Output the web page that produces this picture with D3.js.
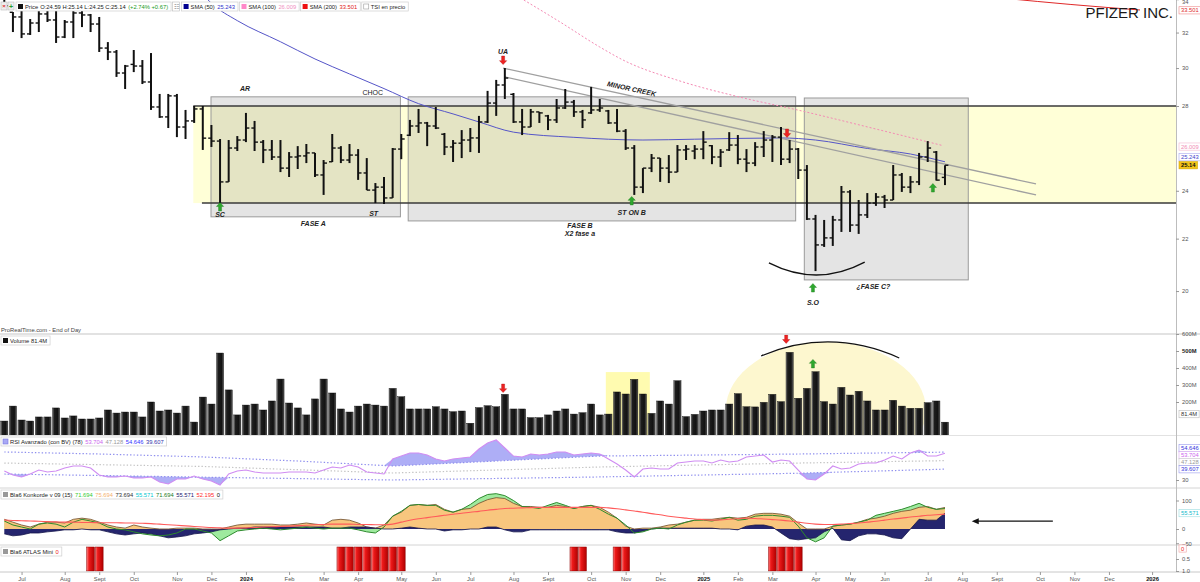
<!DOCTYPE html>
<html><head><meta charset="utf-8">
<script src="https://cdn.jsdelivr.net/npm/d3@7/dist/d3.min.js"></script>
<style>
html,body{margin:0;padding:0;background:#fff;}
svg{display:block;font-family:"Liberation Sans",Arial,sans-serif;}
</style></head><body>
<svg id="chart" width="1200" height="582"></svg>
<script>
// ---------------- DATA (weekly bars, bar 0 = week of 2023-06-19) ----------------
const openP = [34.00,33.20,32.92,31.92,32.56,33.10,32.74,31.74,32.62,33.16,
 33.04,32.50,31.11,30.89,29.73,30.20,30.11,29.25,27.95,27.45,
 28.52,26.95,27.25,27.85,26.41,26.27,24.39,25.94,26.32,26.90,
 26.22,25.85,25.52,25.01,25.52,25.57,25.71,24.70,25.30,25.94,
 25.38,25.61,24.79,24.03,24.16,23.69,25.89,26.55,27.00,27.15,
 27.00,26.60,25.99,26.17,26.32,26.42,27.20,28.15,29.09,28.60,
 27.20,26.95,27.70,27.50,27.30,27.90,28.20,27.70,27.65,27.80,
 27.75,27.15,26.75,25.94,24.16,25.01,25.47,25.01,24.83,25.85,
 25.80,25.89,26.05,25.52,25.85,26.08,25.42,25.24,25.99,26.32,
 26.46,25.42,25.89,24.92,22.80,21.75,22.03,22.76,23.95,22.55,
 22.97,23.47,23.73,23.60,24.70,24.16,24.39,25.52,25.75,24.59];
const highP = [34.50,33.22,33.34,32.80,33.40,33.40,33.40,32.74,33.40,33.40,
 33.10,32.92,31.45,31.00,30.17,31.00,30.44,30.83,28.62,28.62,
 28.62,27.80,28.00,28.00,27.05,26.37,26.32,26.51,27.65,27.25,
 26.32,26.32,26.32,25.75,26.03,26.13,25.71,25.38,26.61,26.03,
 26.13,25.89,25.47,24.34,24.61,25.94,26.61,27.30,27.85,27.20,
 27.95,26.66,26.32,26.80,26.90,27.50,28.78,29.36,30.00,28.67,
 27.85,27.85,27.70,27.55,28.36,28.88,28.31,27.80,28.99,28.36,
 27.80,27.85,26.85,26.08,25.01,25.66,25.47,25.61,26.08,26.08,
 26.08,26.75,26.08,25.89,26.70,26.56,25.89,26.22,26.75,26.56,
 26.95,26.32,25.94,25.15,22.97,22.76,22.93,24.21,24.03,23.60,
 23.90,23.90,23.82,25.15,24.79,24.65,25.71,26.27,25.80,25.14];
const lowP = [33.40,32.03,31.68,31.86,32.03,32.62,31.40,31.68,31.68,32.32,
 32.03,30.89,30.44,29.52,28.88,29.78,29.14,27.80,27.40,26.90,
 26.46,26.37,27.15,25.85,25.99,23.47,24.39,25.80,26.22,25.80,
 25.24,25.38,24.83,24.61,24.97,25.24,24.61,23.82,25.29,25.24,
 25.24,24.48,24.03,23.47,23.43,23.69,25.42,26.51,26.66,26.03,
 26.85,25.61,25.29,25.47,25.75,25.71,27.15,27.50,28.36,27.15,
 26.56,26.95,27.15,26.80,27.15,27.85,27.45,26.90,27.60,27.70,
 27.10,26.70,25.85,23.82,23.90,24.83,24.39,24.34,24.83,25.38,
 25.42,25.42,25.19,25.06,25.80,25.19,24.83,25.10,25.52,25.29,
 25.15,25.24,24.52,22.76,20.74,21.67,21.71,22.27,22.27,22.19,
 22.84,23.35,23.26,23.60,23.95,23.90,24.25,25.29,24.45,24.25];
const closeP = [33.60,32.92,31.92,32.56,33.10,32.74,31.74,32.62,33.16,33.04,
 32.50,31.11,30.89,29.73,30.11,30.11,29.25,27.95,27.45,28.52,
 26.95,27.25,27.85,26.41,26.27,24.39,25.94,26.32,26.90,26.22,
 25.85,25.52,25.01,25.52,25.57,25.71,24.70,25.24,25.94,25.38,
 25.61,24.79,24.03,24.16,23.69,25.89,26.37,27.00,27.15,27.00,
 26.90,25.99,26.17,26.32,26.42,27.20,28.15,29.09,29.46,27.20,
 26.95,27.70,27.65,27.30,27.90,28.20,27.70,27.30,27.80,27.90,
 27.15,26.75,25.94,24.16,25.01,25.47,25.01,24.83,25.85,25.89,
 25.89,26.22,25.52,25.75,26.08,25.42,25.24,25.99,26.32,26.46,
 25.42,25.89,24.92,22.80,21.75,22.03,22.76,23.95,22.55,22.97,
 23.47,23.73,23.60,24.70,24.16,24.39,25.52,25.94,24.47,25.14];
// volume in millions
const volumeM = [88,176,94,88,112,112,165,106,118,100,
 100,106,153,135,141,141,112,200,147,153,
 135,176,82,229,188,488,271,124,182,188,
 153,206,335,194,165,124,218,335,253,159,
 141,176,188,182,176,280,231,159,159,159,
 172,159,143,147,75,167,178,172,245,159,
 159,108,108,124,147,159,129,137,188,124,
 129,259,247,333,247,133,206,188,325,114,
 127,147,153,153,188,249,172,171,198,245,
 202,492,222,280,378,202,188,286,241,263,
 206,153,153,210,176,163,163,196,206,81.4];
// moving averages: [bar index, value]
const sma50 = [[23,34.30],[24,33.75],[27,32.70],[32,31.47],[36,30.50],[40,29.68],[44,28.90],[48,28.12],[52,27.60],[55,27.20],[59,26.70],[66,26.45],[74,26.32],[80,26.36],[90,26.42],[94,26.32],[100,25.92],[105,25.66],[109,25.30]];
const sma100 = [[59.8,34.08],[64.4,32.62],[69,31.17],[71.7,30.44],[78.3,29.30],[85.2,28.46],[91.9,27.80],[101.5,26.80],[108.8,26.05]];
const sma200 = [[116,34.05],[123.5,33.68],[131.6,33.34]];
// RSI Avanzado
const rsi = [38.0,34.4,32.7,35.3,38.8,37.1,38.0,40.6,42.4,42.4,
 40.6,34.4,32.7,32.7,33.5,31.8,31.8,32.7,28.2,26.5,
 30.9,30.9,33.5,30.9,29.1,25.6,35.3,38.0,38.8,37.1,
 36.2,36.2,36.2,37.1,37.1,37.1,36.2,38.8,41.5,40.6,
 43.3,41.5,37.1,36.2,35.3,48.6,51.2,53.9,53.9,52.1,
 48.6,46.8,48.6,49.5,50.4,57.4,62.7,65.4,58.3,51.2,
 50.4,53.0,52.1,53.0,54.8,54.8,52.1,53.0,53.9,53.0,
 48.6,44.2,38.8,32.7,39.7,40.6,39.7,39.7,45.0,45.9,
 46.8,46.8,45.0,47.7,45.9,46.8,50.4,51.2,52.1,45.9,
 47.7,46.8,38.8,30.9,30.0,35.3,42.4,39.7,40.6,44.2,
 45.0,45.0,47.7,51.2,48.6,53.9,56.5,51.2,51.2,53.704];
const rsiUpper = [[0,54.8],[11,53.0],[23,50.4],[34,46.8],[45,42.4],[57,46.8],[69,51.2],[81,52.1],[92,53.0],[109,54.646]];
const rsiMid = [[0,45.0],[23,42.0],[45,36.2],[69,41.5],[92,45.0],[109,47.128]];
const rsiLower = [[0,35.3],[23,32.5],[45,30.0],[69,32.7],[92,36.0],[109,39.607]];
// Konkorde
const marron = [34,24,14,7,17,24,24,21,34,38,
 34,24,14,7,3,14,7,3,0,0,
 3,3,3,0,0,0,7,14,17,17,
 17,17,14,14,17,21,17,14,31,34,
 31,21,7,3,14,45,59,83,86,83,
 86,69,59,69,72,90,103,110,107,90,
 79,79,76,76,83,79,72,79,83,76,
 59,38,10,0,3,3,7,14,17,24,
 31,34,34,38,41,38,41,52,55,55,
 52,45,21,0,0,0,10,14,17,24,
 34,38,45,55,62,66,76,79,69,75.694];
const verde = [28,14,7,0,17,21,17,7,24,34,
 28,21,7,0,-3,-10,-17,-21,-24,-21,
 -14,0,0,-7,-14,-41,-24,-7,-3,0,
 3,0,-3,0,3,7,3,0,3,3,
 3,-3,-10,-14,7,45,62,83,86,83,
 83,66,59,69,86,107,121,124,117,100,
 79,76,72,83,93,83,72,79,83,69,
 52,38,14,-14,-10,0,3,0,14,24,
 31,31,28,34,41,31,34,45,48,48,
 45,41,10,-31,-45,-31,10,14,17,24,
 31,48,55,62,69,79,90,76,69,71.694];
const azul = [-17,-24,-21,-14,-14,-10,-7,-3,-3,0,
 -3,-3,-10,-17,-21,-17,-14,-17,-24,-31,
 -28,-24,-17,-14,-10,-3,0,3,3,7,
 7,7,7,7,7,7,7,7,3,3,
 7,7,7,3,0,0,3,7,3,0,
 0,-7,-3,-3,0,0,7,7,-3,-10,
 -10,-3,-3,-3,-3,-3,-3,-3,-3,-3,
 -3,-10,-14,-14,-7,0,3,3,3,3,
 3,3,3,0,0,-3,10,14,14,7,
 -14,-34,-38,-34,-31,-10,3,-38,-41,-24,
 -17,-17,-21,-31,-34,0,34,31,31,55.571];
const media = [31,30,29,28,27,26,25,24,24,23,
 23,22,22,22,21,21,20,19,17,15,
 13,11,9,7,5,4,3,3,4,5,
 7,8,9,10,12,13,15,16,17,17,
 17,16,16,15,15,17,24,31,36,40,
 44,48,52,55,59,62,66,69,72,73,
 74,75,76,76,76,76,76,76,76,76,
 74,71,67,63,59,54,50,45,41,38,
 35,33,31,32,34,36,38,37,35,33,
 31,28,24,20,17,16,16,17,19,21,
 24,27,31,35,38,42,45,48,50,52.195];
// ATLAS Mini signal weeks
const atlasOn = [10,11,39,40,41,42,43,44,45,46,66,67,71,72,89,90,91,92];
// axis labels
const priceTicks = [20,22,24,28,30,32,34];
const volTicks = [200,300,400,500,600];
const tickLabels = ["Jul","Aug","Sept","Oct","Nov","Dec","2024","Feb","Mar","Apr","May","Jun","Jul","Aug","Sept","Oct","Nov","Dec","2025","Feb","Mar","Apr","May","Jun","Jul","Aug","Sept","Oct","Nov","Dec","2026"];
// annotations (bar index, price)
const zone = {i0:21.9, top:28.0, bottom:23.47};
const boxes = [{i0:23.95,i1:45.9,top:28.47,bot:22.89},{i0:46.8,i1:91.7,top:28.47,bot:22.72},{i0:92.7,i1:111.7,top:28.41,bot:20.41}];
const trend = [[[57.8,30.0],[119.55,24.30]],[[58.0,29.52],[119.55,23.82]]];
const notes = [
 {t:"AR",i:27.9,p:28.88,b:1},{t:"CHOC",i:42.7,p:28.67,b:0},{t:"SC",i:25,p:22.97,b:1},{t:"ST",i:42.8,p:23.01,b:1},
 {t:"FASE A",i:35.8,p:22.63,b:1},{t:"FASE B",i:66.7,p:22.55,b:1},{t:"X2 fase a",i:66.7,p:22.19,b:1},{t:"ST ON B",i:72.7,p:23.05,b:1},
 {t:"UA",i:57.8,p:30.94,b:1},{t:"S.O",i:93.7,p:19.57,b:1},{t:"¿FASE C?",i:100.7,p:20.15,b:1}];
const upArrows = [[25,23.30],[72.7,23.56],[93.7,20.11],[107.6,24.12]];
const downArrows = [[57.8,30.44],[90.7,26.66]];

// ---------------- SCALES ----------------
const svg = d3.select("#chart");
const PR = 1176;
const t0 = Date.UTC(2023,5,19), WEEK = 7*864e5;
const bd = i => new Date(t0 + i*WEEK);
const x = d3.scaleUtc().domain([bd(0), bd(109)]).range([4.3, 944.97]);
const xi = i => x(bd(i));
const yP = d3.scaleLog().domain([18.498, 33.951]).range([334, 0]);
const yV = d3.scaleLinear().domain([0, 600]).range([436, 334]);
const yR = d3.scaleLinear().domain([30, 70]).range([480, 434.8]);
const yK = d3.scaleLinear().domain([-50, 100]).range([543.25, 500.5]);
const yA = d3.scaleLinear().domain([0, 1]).range([547, 571]);
const idx = d3.range(110);

const defs = svg.append("defs");
function grad(id, stops){const g=defs.append("linearGradient").attr("id",id).attr("x1",0).attr("x2",1).attr("y1",0).attr("y2",0);stops.forEach(s=>g.append("stop").attr("offset",s[0]).attr("stop-color",s[1]));}
grad("gVol",[[0,"#8a8a8a"],[0.22,"#1e1e1e"],[0.7,"#121212"],[1,"#5a5a5a"]]);
grad("gAtl",[[0,"#ff8080"],[0.3,"#ee1a1a"],[1,"#b00000"]]);
function clip(id,x0,y0,w,h){defs.append("clipPath").attr("id",id).append("rect").attr("x",x0).attr("y",y0).attr("width",w).attr("height",h);}
clip("cP",0,0,PR,334); clip("cV",0,334,PR,101); clip("cR",0,435,PR,53); clip("cK",0,488,PR,57); clip("cA",0,545,PR,27);

// ---------------- PRICE PANEL ----------------
const gP = svg.append("g").attr("clip-path","url(#cP)");
gP.append("rect").attr("x",xi(zone.i0)).attr("y",yP(zone.top)).attr("width",PR-xi(zone.i0)).attr("height",yP(zone.bottom)-yP(zone.top)).attr("fill","#ffffd7");
boxes.forEach(b=>gP.append("rect").attr("x",xi(b.i0)).attr("y",yP(b.top)).attr("width",xi(b.i1)-xi(b.i0)).attr("height",yP(b.bot)-yP(b.top))
  .attr("fill","rgba(120,120,120,0.2)").attr("stroke","#9a9a9a").attr("stroke-width",1));
gP.append("line").attr("x1",xi(zone.i0)).attr("x2",PR).attr("y1",yP(zone.top)).attr("y2",yP(zone.top)).attr("stroke","#3a3a3a").attr("stroke-width",1.6);
gP.append("line").attr("x1",xi(zone.i0+1)).attr("x2",PR).attr("y1",yP(zone.bottom)).attr("y2",yP(zone.bottom)).attr("stroke","#3a3a3a").attr("stroke-width",1.6);

const lineP = d3.line().x(d=>xi(d[0])).y(d=>yP(d[1])).curve(d3.curveMonotoneX);
gP.append("path").attr("d",lineP(sma50)).attr("fill","none").attr("stroke","#5555c8").attr("stroke-width",1);
gP.append("path").attr("d",lineP(sma100)).attr("fill","none").attr("stroke","#f48ab4").attr("stroke-width",1).attr("stroke-dasharray","2,2");
gP.append("path").attr("d",lineP(sma200)).attr("fill","none").attr("stroke","#e02828").attr("stroke-width",1);

trend.forEach(t=>gP.append("line").attr("x1",xi(t[0][0])).attr("y1",yP(t[0][1])).attr("x2",xi(t[1][0])).attr("y2",yP(t[1][1])).attr("stroke","#a0a0a0").attr("stroke-width",1.3));

idx.forEach(i=>{
  const cx = xi(i);
  gP.append("line").attr("x1",cx).attr("x2",cx).attr("y1",yP(highP[i])).attr("y2",yP(lowP[i])).attr("stroke","#111").attr("stroke-width",2);
  gP.append("line").attr("x1",cx-3.2).attr("x2",cx).attr("y1",yP(openP[i])).attr("y2",yP(openP[i])).attr("stroke","#111").attr("stroke-width",1.4);
  gP.append("line").attr("x1",cx).attr("x2",cx+3.4).attr("y1",yP(closeP[i])).attr("y2",yP(closeP[i])).attr("stroke","#111").attr("stroke-width",1.4);
});

const arrowD = "M0,-4.5 L3.6,-0.6 L1.5,-0.6 L1.5,4 L-1.5,4 L-1.5,-0.6 L-3.6,-0.6 Z";
function arrow(g,cx,cy,up,col){g.append("path").attr("d",arrowD).attr("transform",`translate(${cx},${cy}) rotate(${up?0:180})`).attr("fill",col).attr("stroke",up?"#1d7a1d":"#b01010").attr("stroke-width",0.4);}
upArrows.forEach(a=>arrow(gP,xi(a[0]),yP(a[1]),true,"#2ea82e"));
downArrows.forEach(a=>arrow(gP,xi(a[0]),yP(a[1]),false,"#ee2222"));

notes.forEach(n=>gP.append("text").attr("x",xi(n.i)).attr("y",yP(n.p)).attr("dy","0.35em").attr("text-anchor","middle")
  .attr("font-size",7).attr("font-weight",n.b?"bold":"normal").attr("font-style",n.b?"italic":"normal").attr("fill","#222").text(n.t));
{
  const a = trend[0]; const ang = Math.atan2(yP(a[1][1])-yP(a[0][1]), xi(a[1][0])-xi(a[0][0]))*180/Math.PI;
  gP.append("text").attr("transform",`translate(${xi(72.7)},${yP(28.88)}) rotate(${ang})`).attr("dy","0.35em").attr("text-anchor","middle")
    .attr("font-size",7).attr("font-weight","bold").attr("font-style","italic").attr("fill","#222").text("MINOR CREEK");
}
gP.append("path").attr("d",`M${xi(88.6)},${yP(21.05)} Q${xi(94.2)},${yP(20.13)} ${xi(99.7)},${yP(21.08)}`).attr("fill","none").attr("stroke","#111").attr("stroke-width",1.3);

// ---------------- VOLUME PANEL ----------------
const gV = svg.append("g").attr("clip-path","url(#cV)");
gV.append("ellipse").attr("cx",xi(95.2)).attr("cy",yV(153)).attr("rx",xi(95.2+11.6)-xi(95.2)).attr("ry",yV(0)-yV(400)).attr("fill","#fdf7cf");
gV.append("rect").attr("x",xi(69.7)).attr("y",yV(376)).attr("width",xi(74.8)-xi(69.7)).attr("height",yV(0)-yV(376)).attr("fill","#fffbb0");
idx.forEach(i=>gV.append("rect").attr("x",xi(i)-3.6).attr("width",7.2).attr("y",yV(volumeM[i])).attr("height",yV(0)-yV(volumeM[i]))
  .attr("fill","url(#gVol)").attr("stroke","#000").attr("stroke-width",0.4));
gV.append("path").attr("d",`M${xi(87.7)},${yV(471)} Q${xi(95.7)},${yV(641)} ${xi(103.7)},${yV(459)}`).attr("fill","none").attr("stroke","#111").attr("stroke-width",1.2);
arrow(gV,xi(57.8),yV(282),false,"#ee2222");
arrow(gV,xi(90.6),yV(571),false,"#ee2222");
arrow(gV,xi(93.7),yV(424),true,"#2ea82e");

// ---------------- RSI PANEL ----------------
const gR = svg.append("g").attr("clip-path","url(#cR)");
const sc = arr => d3.scaleLinear().domain(arr.map(d=>d[0])).range(arr.map(d=>d[1]));
const upAt = sc(rsiUpper), midAt = sc(rsiMid), loAt = sc(rsiLower);
gR.append("path").attr("d",d3.area().x(i=>xi(i)).y0(i=>yR(upAt(i))).y1(i=>yR(Math.max(rsi[i],upAt(i))))(idx)).attr("fill","#aeaef6");
gR.append("path").attr("d",d3.area().x(i=>xi(i)).y0(i=>yR(loAt(i))).y1(i=>yR(Math.min(rsi[i],loAt(i))))(idx)).attr("fill","#aeaef6");
[[upAt,"#8f8fee"],[midAt,"#c4c4c4"],[loAt,"#8f8fee"]].forEach(b=>gR.append("path").attr("d",d3.line().x(i=>xi(i)).y(i=>yR(b[0](i)))(idx))
  .attr("fill","none").attr("stroke",b[1]).attr("stroke-width",1.2).attr("stroke-dasharray","1.4,2"));
gR.append("path").attr("d",d3.line().x(i=>xi(i)).y(i=>yR(rsi[i]))(idx)).attr("fill","none").attr("stroke","#d08cf2").attr("stroke-width",1.1);

// ---------------- KONKORDE PANEL ----------------
const gK = svg.append("g").attr("clip-path","url(#cK)");
const kx = i=>xi(i);
gK.append("path").attr("d",d3.area().x(kx).y0(yK(0)).y1(i=>yK(verde[i]))(idx)).attr("fill","#9eea9e");
gK.append("path").attr("d",d3.area().x(kx).y0(yK(0)).y1(i=>yK(marron[i]))(idx)).attr("fill","#f8c67e");
gK.append("path").attr("d",d3.area().x(kx).y0(yK(0)).y1(i=>yK(azul[i]))(idx)).attr("fill","#25256e");
gK.append("path").attr("d",d3.line().x(kx).y(i=>yK(marron[i]))(idx)).attr("fill","none").attr("stroke","#7a5a38").attr("stroke-width",0.9);
gK.append("path").attr("d",d3.line().x(kx).y(i=>yK(azul[i]))(idx)).attr("fill","none").attr("stroke","#14144a").attr("stroke-width",0.8);
gK.append("path").attr("d",d3.line().x(kx).y(i=>yK(verde[i]))(idx)).attr("fill","none").attr("stroke","#2d8a2d").attr("stroke-width",1);
gK.append("path").attr("d",d3.line().x(kx).y(i=>yK(media[i])).curve(d3.curveMonotoneX)(idx)).attr("fill","none").attr("stroke","#ff5a5a").attr("stroke-width",1.1);
{
  const ya = yK(27.6), xa = xi(112.1), xb = xi(121.5);
  svg.append("line").attr("x1",xa+5).attr("x2",xb).attr("y1",ya).attr("y2",ya).attr("stroke","#111").attr("stroke-width",1.1);
  svg.append("path").attr("d",`M${xa},${ya} L${xa+7},${ya-3} L${xa+7},${ya+3} Z`).attr("fill","#111");
}

// ---------------- ATLAS PANEL ----------------
const gA = svg.append("g").attr("clip-path","url(#cA)");
atlasOn.forEach(i=>gA.append("rect").attr("x",xi(i)-3.9).attr("width",7.8).attr("y",yA(0)).attr("height",yA(1)-yA(0))
  .attr("fill","url(#gAtl)").attr("stroke","#8a0000").attr("stroke-width",0.5));

// ---------------- SEPARATORS / AXES ----------------
[[334,"#d8d8d8",1.6],[435.5,"#e2e2e2",1],[488,"#d4d4d4",1],[545,"#d4d4d4",1],[572,"#c8c8c8",1]].forEach(s=>
  svg.append("line").attr("x1",0).attr("x2",1200).attr("y1",s[0]).attr("y2",s[0]).attr("stroke",s[1]).attr("stroke-width",s[2]));
svg.append("line").attr("x1",PR+0.5).attr("x2",PR+0.5).attr("y1",0).attr("y2",572).attr("stroke","#bdbdbd");

const tickDates = tickLabels.map((_,k)=>d3.utcMonday.ceil(new Date(Date.UTC(2023,6+k,1))));
const gx = svg.append("g").attr("transform","translate(0,572)")
  .call(d3.axisBottom(x).tickValues(tickDates).tickFormat((d,k)=>tickLabels[k]).tickSize(3).tickPadding(1.5));
gx.select(".domain").remove();
gx.selectAll("line").attr("stroke","#999");
gx.selectAll("text").attr("font-size",5.8).attr("font-family","Liberation Sans, Arial")
  .attr("fill",(d,k)=>/^\d{4}$/.test(tickLabels[k])?"#111":"#555").attr("font-weight",(d,k)=>/^\d{4}$/.test(tickLabels[k])?"bold":"normal");

function styleAxis(g){g.select(".domain").remove();g.selectAll("line").attr("stroke","#999");g.selectAll("text").attr("font-size",5.8).attr("fill","#555").attr("font-family","Liberation Sans, Arial");}
const gpa = svg.append("g").attr("transform",`translate(${PR},0)`).call(d3.axisRight(yP).tickValues(priceTicks).tickFormat(d3.format("d")).tickSize(3).tickPadding(3));
styleAxis(gpa); gpa.selectAll("text").filter(d=>d===34).attr("dy","0.75em");
const gva = svg.append("g").attr("transform",`translate(${PR},0)`).call(d3.axisRight(yV).tickValues(volTicks).tickFormat(d=>d+"M").tickSize(3).tickPadding(3));
styleAxis(gva); gva.selectAll("text").filter(d=>d===500).attr("font-weight","bold").attr("fill","#222");
styleAxis(svg.append("g").attr("transform",`translate(${PR},0)`).call(d3.axisRight(yR).tickValues([30]).tickSize(3).tickPadding(3)));
styleAxis(svg.append("g").attr("transform",`translate(${PR},0)`).call(d3.axisRight(yK).tickValues([100,0,-50]).tickSize(3).tickPadding(3)));
styleAxis(svg.append("g").attr("transform",`translate(${PR},0)`).call(d3.axisRight(yA).tickValues([0.5,1]).tickSize(3).tickPadding(3)));

function valBox(yc, txt, col, opt={}){
  const g = svg.append("g").attr("transform",`translate(${PR+3},${yc})`);
  const t = g.append("text").attr("x",2).attr("y",0).attr("dy","0.35em").attr("font-size",5.8).attr("fill",col)
    .attr("font-weight",opt.bold?"bold":"normal").text(txt);
  const w = t.node().getComputedTextLength()+4;
  g.insert("rect","text").attr("x",0).attr("y",-3.6).attr("width",w).attr("height",7.2).attr("fill",opt.bg||"#fff").attr("stroke",opt.stroke||"#ccc").attr("stroke-width",0.6);
}
valBox(yP(33.501)+3,"33.501","#e02828",{stroke:"#e88"});
valBox(yP(26.009),"26.009","#f08ab4",{stroke:"#f3b8d0"});
valBox(Math.min(yP(25.243), yP(25.14)-8),"25.243","#4444cc",{stroke:"#aaaaee"});
valBox(yP(25.14),"25.14","#111",{bold:true,bg:"#f2c418",stroke:"#d4a800"});
valBox(yV(81.4)-8,"81.4M","#333",{stroke:"#bbb"});
{
  let labs = [[54.646,"#3333dd","#9999ee"],[53.704,"#cc66ee","#ddaaf0"],[47.128,"#999","#ccc"],[39.607,"#3333dd","#9999ee"]].map(d=>({v:d[0],c:d[1],s:d[2],y:yR(d[0])}));
  labs.sort((a,b)=>a.y-b.y);
  const orig = d3.mean(labs,d=>d.y);
  for(let k=1;k<labs.length;k++) if(labs[k].y<labs[k-1].y+7) labs[k].y=labs[k-1].y+7;
  const shift = orig - d3.mean(labs,d=>d.y);
  labs.forEach(l=>valBox(l.y+shift, d3.format(".3f")(l.v), l.c, {stroke:l.s}));
}
valBox(yK(55.571),"55.571","#11bbcc",{stroke:"#99dde0"});
valBox(yA(0)+1.5,"0","#ee2222",{stroke:"#f0a0a0"});

// ---------------- LEGENDS / HEADERS ----------------
function legend(x0, y0, parts){
  const g = svg.append("g").attr("transform",`translate(${x0},${y0})`);
  const r = g.append("rect").attr("height",9).attr("fill","#fff").attr("stroke","#cfcfcf").attr("stroke-width",0.7);
  let cx = 2;
  parts.forEach(p=>{
    if(p.sq){g.append("rect").attr("x",cx).attr("y",2).attr("width",5).attr("height",5).attr("fill",p.sq).attr("stroke",p.ss||"none").attr("stroke-width",0.6); cx+=7;}
    if(p.t!==undefined){const t=g.append("text").attr("x",cx).attr("y",6.8).attr("font-size",5.8).attr("fill",p.c||"#222").text(p.t); cx+=t.node().getComputedTextLength()+(p.g===undefined?2.5:p.g);}
  });
  r.attr("width",cx+0.5);
  return x0+cx+2;
}
svg.append("rect").attr("x",1).attr("y",2).attr("width",6).attr("height",8).attr("fill","#eee").attr("stroke","#bbb").attr("stroke-width",0.6);
svg.append("text").attr("x",4).attr("y",8.4).attr("text-anchor","middle").attr("font-size",6).attr("font-weight","bold").attr("fill","#e03030").text("×");
svg.append("rect").attr("x",8).attr("y",2).attr("width",6).attr("height",8).attr("fill","#eee").attr("stroke","#bbb").attr("stroke-width",0.6);
svg.append("text").attr("x",11).attr("y",8.6).attr("text-anchor","middle").attr("font-size",7).attr("font-weight","bold").attr("fill","#2a9a2a").text("+");
let hx = legend(16,2,[{sq:"#111"},{t:"Price",g:2},{t:"O:24.59 H:25.14 L:24.25 C:25.14"},{t:"(+2.74% +0.67)",c:"#1a9a1a"}]);
svg.append("rect").attr("x",hx).attr("y",2).attr("width",7).attr("height",9).attr("fill","#fff").attr("stroke","#bbb").attr("stroke-width",0.6);
svg.append("text").attr("x",hx+3.5).attr("y",8.5).attr("text-anchor","middle").attr("font-size",6).attr("fill","#666").text("☷");
hx += 9;
hx = legend(hx,2,[{sq:"#000090"},{t:"SMA (50)"},{t:"25.243",c:"#3333cc"}]);
hx = legend(hx,2,[{sq:"#ff88c8"},{t:"SMA (100)"},{t:"26.009",c:"#f090c0"}]);
hx = legend(hx,2,[{sq:"#ee1111"},{t:"SMA (200)"},{t:"33.501",c:"#e02020"}]);
legend(hx,2,[{sq:"#fff",ss:"#999"},{t:"TSI en precio"}]);

svg.append("text").attr("x",1).attr("y",332).attr("font-size",5.8).attr("fill","#444").text("ProRealTime.com - End of Day");
legend(1,336,[{sq:"#111"},{t:"Volume 81.4M"}]);
legend(1,437,[{sq:"#a9a9f5",ss:"#7777dd"},{t:"RSI Avanzado (con BV) (78)"},{t:"53.704",c:"#cc66ee"},{t:"47.128",c:"#999"},{t:"54.646",c:"#3333ff"},{t:"39.607",c:"#3333aa"}]);
legend(1,490,[{sq:"#999"},{t:"Bla6 Konkorde v 09 (15)"},{t:"71.694",c:"#33cc33"},{t:"75.694",c:"#f5b070"},{t:"73.694",c:"#333"},{t:"55.571",c:"#00c8d0"},{t:"71.694",c:"#1a7a1a"},{t:"55.571",c:"#1a1a70"},{t:"52.195",c:"#ff2a2a"},{t:"0",c:"#111"}]);
legend(1,547,[{sq:"#999"},{t:"Bla6 ATLAS Mini"},{t:"0",c:"#ee2222"}]);

svg.append("text").attr("x",1173).attr("y",18).attr("text-anchor","end").attr("font-size",15).attr("fill","#1a1a1a").text("PFIZER INC.");
</script></body></html>
